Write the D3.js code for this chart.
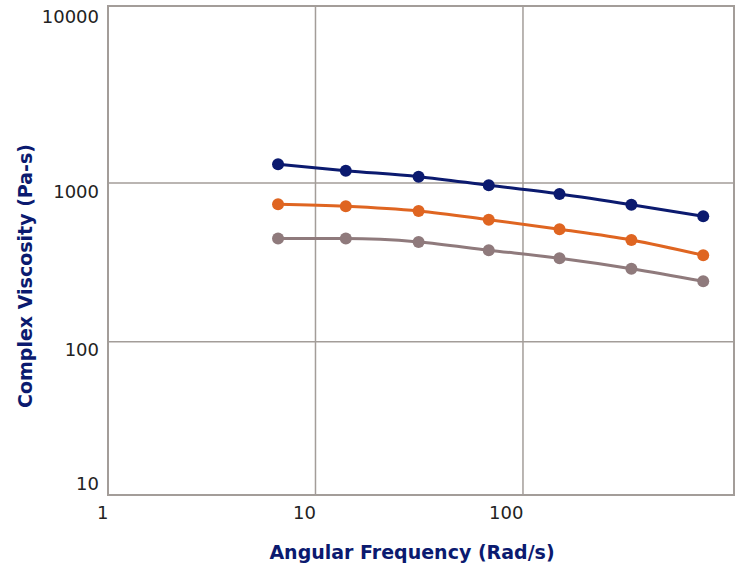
<!DOCTYPE html>
<html>
<head>
<meta charset="utf-8">
<script src="https://cdn.jsdelivr.net/npm/d3@7"></script>
<style>
  body { margin: 0; background: #fff; }
  svg { display: block; }
</style>
</head>
<body>
<div id="chart"></div>
<script>
// angular frequency (rad/s) and complex viscosity (Pa-s)
const frequencies = [6.6, 14.0, 31.4, 68.4, 150, 333, 739];
const viscosityNavy = [1312, 1195, 1096, 967, 852, 730, 617];
const viscosityOrange = [734, 713, 666, 587, 511, 437, 350];
const viscosityGray = [446, 446, 425, 377, 335, 288, 240];
const xTicks = [1, 10, 100];
const yTicks = [10, 100, 1000, 10000];

const seriesList = [
    { values: viscosityNavy, color: "#0b1a6f" },
    { values: viscosityOrange, color: "#df6521" },
    { values: viscosityGray, color: "#8f7a7c" },
];

const totalW = 738, totalH = 567;
const margin = { left: 108, right: 4, top: 6, bottom: 72 };
const width = totalW - margin.left - margin.right;
const height = totalH - margin.top - margin.bottom;
const frameColor = "#a39d99";

const svg = d3.select("#chart").append("svg")
    .attr("width", totalW)
    .attr("height", totalH);

const g = svg.append("g")
    .attr("transform", "translate(" + margin.left + "," + margin.top + ")");

const x = d3.scaleLog().domain([1, 1040]).range([0, width]);
const y = d3.scaleLog().domain([10.8, 13040]).range([height, 0]);

// grid lines
g.selectAll(".vgrid")
    .data([10, 100])
    .enter().append("line")
    .attr("x1", d => x(d)).attr("x2", d => x(d))
    .attr("y1", 0).attr("y2", height)
    .style("stroke", frameColor)
    .style("stroke-width", 1.5);

g.selectAll(".hgrid")
    .data([100, 1000])
    .enter().append("line")
    .attr("x1", 0).attr("x2", width)
    .attr("y1", d => y(d)).attr("y2", d => y(d))
    .style("stroke", frameColor)
    .style("stroke-width", 1.5);

// frame
g.append("rect")
    .attr("width", width)
    .attr("height", height)
    .style("fill", "none")
    .style("stroke", frameColor)
    .style("stroke-width", 2);

// x axis, labels right-aligned on their tick
const xAxis = g.append("g")
    .attr("transform", "translate(0," + height + ")")
    .call(d3.axisBottom(x).tickValues(xTicks).tickFormat(d3.format("d")).tickSize(0));
xAxis.select(".domain").remove();
xAxis.selectAll("text")
    .attr("y", 11)
    .attr("dy", "0.71em")
    .style("text-anchor", "end")
    .style("font-family", "'DejaVu Sans', sans-serif")
    .style("font-size", "18px")
    .style("fill", "#222");

// y axis, labels hang just under their line; the end labels sit at the frame edges
const yAxis = g.append("g")
    .call(d3.axisLeft(y).tickValues(yTicks).tickFormat(d3.format("d")).tickSize(0));
yAxis.select(".domain").remove();
yAxis.selectAll(".tick")
    .attr("transform", d => {
        let p = y(d) + 2;
        if (d === yTicks[yTicks.length - 1]) p = 4;
        if (d === yTicks[0]) p = height - 18;
        return "translate(0," + p + ")";
    });
yAxis.selectAll("text")
    .attr("x", -9)
    .attr("dy", "0.71em")
    .style("font-family", "'DejaVu Sans', sans-serif")
    .style("font-size", "18px")
    .style("fill", "#222");

// series
const line = d3.line()
    .x((d, i) => x(frequencies[i]))
    .y(d => y(d))
    .curve(d3.curveMonotoneX);

seriesList.forEach(s => {
    g.append("path")
        .datum(s.values)
        .attr("d", line)
        .style("fill", "none")
        .style("stroke", s.color)
        .style("stroke-width", 3);

    g.selectAll(null)
        .data(s.values)
        .enter().append("circle")
        .attr("cx", (d, i) => x(frequencies[i]))
        .attr("cy", d => y(d))
        .attr("r", 6)
        .style("fill", s.color);
});

// axis titles
svg.append("text")
    .attr("x", 412)
    .attr("y", 559)
    .style("text-anchor", "middle")
    .style("font-family", "'DejaVu Sans', sans-serif")
    .style("font-weight", "bold")
    .style("font-size", "19px")
    .style("fill", "#0b1a6f")
    .text("Angular Frequency (Rad/s)");

svg.append("text")
    .attr("transform", "translate(32,276) rotate(-90)")
    .style("text-anchor", "middle")
    .style("font-family", "'DejaVu Sans', sans-serif")
    .style("font-weight", "bold")
    .style("font-size", "19px")
    .style("fill", "#0b1a6f")
    .text("Complex Viscosity (Pa-s)");
</script>
</body>
</html>
